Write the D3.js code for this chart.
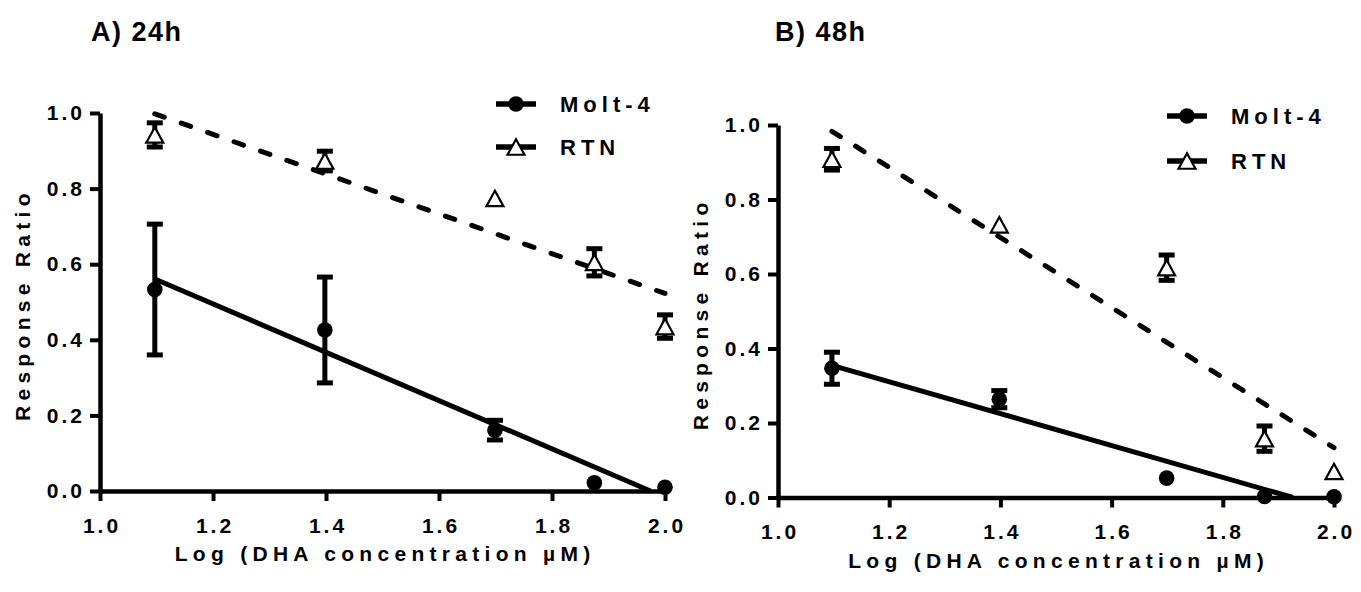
<!DOCTYPE html>
<html>
<head>
<meta charset="utf-8">
<script src="https://cdn.jsdelivr.net/npm/d3@7"></script>
<style>
  html, body { margin: 0; padding: 0; background: #fff; }
  svg { display: block; font-family: "Liberation Sans", Arial, sans-serif; font-weight: bold; }
</style>
</head>
<body>
<svg width="1361" height="592"></svg>
<script>
// log10 of DHA concentration (12.5, 25, 50, 75, 100 uM)
const logDose = [1.097, 1.398, 1.699, 1.875, 2.0];

// 24h
const molt24 = [0.533, 0.426, 0.161, 0.022, 0.010];
const molt24Err = [0.173, 0.140, 0.026, 0, 0];
const rtn24 = [0.942, 0.873, 0.774, 0.605, 0.435];
const rtn24Err = [0.032, 0.026, 0, 0.036, 0.031];

// 48h
const molt48 = [0.347, 0.264, 0.052, 0.003, 0.002];
const molt48Err = [0.043, 0.023, 0, 0, 0];
const rtn48 = [0.908, 0.732, 0.617, 0.158, 0.070];
const rtn48Err = [0.029, 0, 0.034, 0.034, 0];

const xTicks = [1.0, 1.2, 1.4, 1.6, 1.8, 2.0];
const yTicks = [0.0, 0.2, 0.4, 0.6, 0.8, 1.0];
const seriesNames = ["Molt-4", "RTN"];
const panelTitles = ["A) 24h", "B) 48h"];
const xTitle = "Log (DHA concentration \u00b5M)";
const yTitle = "Response Ratio";

let svg = d3.select("svg");

// least squares line, stopped where it reaches zero
function fitLine(xs, ys) {
  let mx = d3.mean(xs), my = d3.mean(ys);
  let sxy = d3.sum(xs, (x, i) => (x - mx) * (ys[i] - my));
  let sxx = d3.sum(xs, x => (x - mx) * (x - mx));
  let b = sxy / sxx, a = my - b * mx;
  let x0 = xs[0], x1 = xs[xs.length - 1];
  if (a + b * x1 < 0) x1 = -a / b;
  return [[x0, a + b * x0], [x1, a + b * x1]];
}

function triPath(w, h) {
  return "M0," + (-h / 2) + "L" + (w / 2) + "," + (h / 2) + "L" + (-w / 2) + "," + (h / 2) + "Z";
}

function drawMarker(g, kind, cx, cy) {
  if (kind == "circle") {
    g.append("circle").attr("cx", cx).attr("cy", cy).attr("r", 7.8).attr("fill", "#000");
  } else {
    g.append("path").attr("d", triPath(17, 15.5))
      .attr("transform", "translate(" + cx + "," + cy + ")")
      .attr("fill", "#fff").attr("stroke", "#000").attr("stroke-width", 2.2)
      .attr("stroke-linejoin", "miter");
  }
}

function drawPanel(p) {
  let x = d3.scaleLinear().domain([1, 2]).range([p.left, p.right]);
  let y = d3.scaleLinear().domain([0, 1]).range([p.bottom, p.top]);
  let g = svg.append("g");

  // title
  g.append("text").attr("x", p.titleX).attr("y", 41)
    .style("font-size", "27px").style("letter-spacing", "1.5px")
    .text(p.title);

  // axes
  let yAxis = g.append("g").attr("transform", "translate(" + p.left + ",0)")
    .call(d3.axisLeft(y).tickValues(yTicks).tickFormat(d3.format(".1f")).tickSize(10).tickSizeOuter(0).tickPadding(5));
  let xAxis = g.append("g").attr("transform", "translate(0," + p.bottom + ")")
    .call(d3.axisBottom(x).tickValues(xTicks).tickFormat(d3.format(".1f")).tickSize(10).tickSizeOuter(0).tickPadding(17));
  [xAxis, yAxis].forEach(ax => {
    ax.select(".domain").attr("stroke", "#000").attr("stroke-width", 4.5);
    ax.selectAll(".tick line").attr("stroke", "#000").attr("stroke-width", 4);
    ax.selectAll(".tick text").attr("fill", "#000")
      .style("font-size", "21px").style("font-weight", "bold")
      .style("font-family", "'Liberation Sans', Arial, sans-serif")
      .style("letter-spacing", "3px");
  });
  xAxis.selectAll(".tick text").attr("dx", "1.5px");

  // axis titles
  g.append("text")
    .attr("x", (p.left + p.right) / 2 + 2.6).attr("y", p.bottom + 70)
    .attr("text-anchor", "middle")
    .style("font-size", "21px").style("letter-spacing", "5.3px")
    .text(xTitle);
  g.append("text")
    .attr("transform", "translate(" + (p.left - 70) + "," + ((p.top + p.bottom) / 2 + 2.6) + ") rotate(-90)")
    .attr("text-anchor", "middle")
    .style("font-size", "21px").style("letter-spacing", "5.3px")
    .text(yTitle);

  // fitted lines
  let line = d3.line().x(d => x(d[0])).y(d => y(d[1]));
  p.series.forEach(s => {
    g.append("path").attr("d", line(fitLine(logDose, s.values)))
      .attr("fill", "none").attr("stroke", "#000").attr("stroke-width", 5)
      .attr("stroke-linecap", s.dashed ? "round" : "butt")
      .attr("stroke-dasharray", s.dashed ? "10,18" : null);
  });

  // error bars
  p.series.forEach(s => {
    s.values.forEach((v, i) => {
      let e = s.errors[i];
      if (!e) return;
      let cx = x(logDose[i]);
      g.append("line").attr("x1", cx).attr("x2", cx).attr("y1", y(v - e)).attr("y2", y(v + e))
        .attr("stroke", "#000").attr("stroke-width", 5);
      [v - e, v + e].forEach(c => {
        g.append("line").attr("x1", cx - 8).attr("x2", cx + 8).attr("y1", y(c)).attr("y2", y(c))
          .attr("stroke", "#000").attr("stroke-width", 5);
      });
    });
  });

  // points
  p.series.forEach(s => {
    s.values.forEach((v, i) => drawMarker(g, s.marker, x(logDose[i]), y(v)));
  });

  // legend
  p.series.forEach((s, i) => {
    let ly = p.legendY + i * p.legendGap;
    g.append("line").attr("x1", p.legendX).attr("x2", p.legendX + 40).attr("y1", ly).attr("y2", ly)
      .attr("stroke", "#000").attr("stroke-width", 5.5);
    drawMarker(g, s.marker, p.legendX + 20, ly);
    g.append("text").attr("x", p.legendX + 64).attr("y", ly + 8)
      .style("font-size", "22px").style("letter-spacing", "5px")
      .text(seriesNames[i]);
  });
}

drawPanel({
  title: panelTitles[0], titleX: 91,
  left: 100, right: 665, top: 113, bottom: 491,
  legendX: 496, legendY: 104, legendGap: 43,
  series: [
    {values: molt24, errors: molt24Err, marker: "circle", dashed: false},
    {values: rtn24, errors: rtn24Err, marker: "triangle", dashed: true}
  ]
});

drawPanel({
  title: panelTitles[1], titleX: 775,
  left: 778, right: 1334, top: 125, bottom: 497.5,
  legendX: 1167, legendY: 116, legendGap: 45,
  series: [
    {values: molt48, errors: molt48Err, marker: "circle", dashed: false},
    {values: rtn48, errors: rtn48Err, marker: "triangle", dashed: true}
  ]
});
</script>
</body>
</html>
